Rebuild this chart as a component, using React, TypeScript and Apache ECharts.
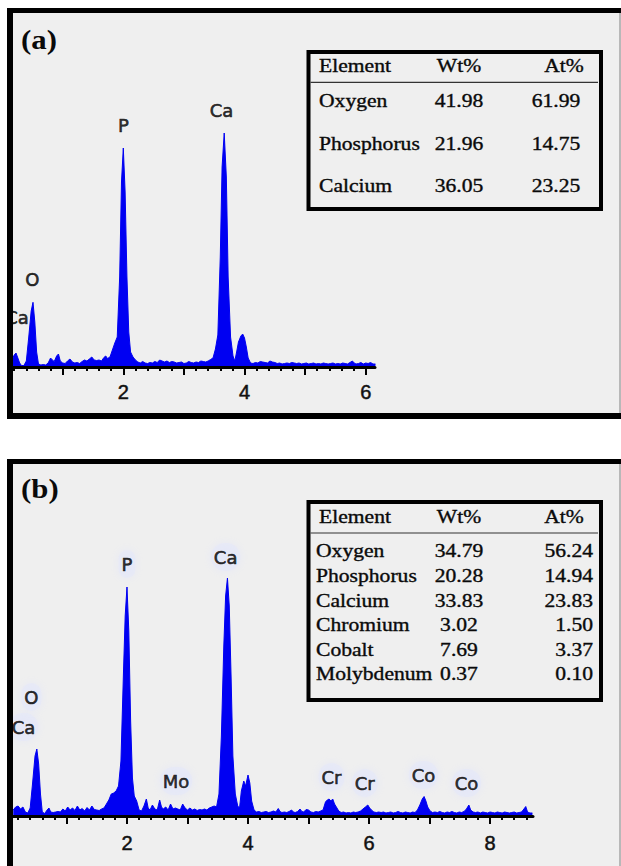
import React, { useEffect, useRef } from 'react';
import * as echarts from 'echarts';

// ---------- Data: EDS spectrum (a) [keV, counts] ----------
const spectrumA: [number, number][] = [
  [0.17, 80], [0.2, 120], [0.23, 140], [0.26, 90], [0.29, 40], [0.32, 15], [0.36, 15],
  [0.4, 60], [0.44, 300], [0.48, 560], [0.51, 647], [0.54, 450], [0.57, 150], [0.6, 30],
  [0.64, 20], [0.68, 25], [0.72, 20], [0.76, 40], [0.8, 90], [0.83, 70], [0.86, 55],
  [0.9, 110], [0.93, 130], [0.96, 60], [1.0, 40], [1.04, 35], [1.08, 60], [1.12, 80],
  [1.16, 50], [1.2, 40], [1.24, 45], [1.28, 35], [1.32, 55], [1.36, 70], [1.4, 60],
  [1.44, 80], [1.48, 100], [1.52, 70], [1.56, 65], [1.6, 70], [1.64, 60], [1.68, 95],
  [1.71, 110], [1.74, 85], [1.78, 100], [1.82, 170], [1.86, 240], [1.9, 300], [1.94, 900],
  [1.97, 1850], [2.0, 2190], [2.03, 1750], [2.06, 900], [2.09, 350], [2.12, 150], [2.16, 100],
  [2.2, 70], [2.24, 50], [2.28, 40], [2.32, 55], [2.36, 40], [2.4, 35], [2.44, 45],
  [2.48, 40], [2.52, 55], [2.56, 45], [2.6, 70], [2.64, 60], [2.68, 50], [2.72, 60],
  [2.76, 45], [2.8, 55], [2.84, 50], [2.88, 40], [2.92, 45], [2.96, 50], [3.0, 35],
  [3.04, 40], [3.08, 55], [3.12, 45], [3.16, 40], [3.2, 50], [3.24, 45], [3.28, 60],
  [3.32, 55], [3.36, 50], [3.4, 60], [3.44, 75], [3.48, 90], [3.52, 180], [3.56, 320],
  [3.6, 1100], [3.63, 2000], [3.665, 2340], [3.7, 1900], [3.73, 900], [3.77, 300], [3.81, 110],
  [3.84, 60], [3.87, 150], [3.9, 250], [3.94, 310], [3.97, 330], [4.0, 290], [4.03, 200],
  [4.06, 90], [4.1, 40], [4.14, 35], [4.18, 45], [4.22, 40], [4.26, 55], [4.3, 50],
  [4.34, 45], [4.38, 40], [4.42, 60], [4.46, 50], [4.5, 45], [4.54, 35], [4.58, 40],
  [4.62, 30], [4.66, 35], [4.7, 40], [4.74, 35], [4.78, 45], [4.82, 40], [4.86, 35],
  [4.9, 40], [4.94, 30], [4.98, 35], [5.02, 40], [5.06, 30], [5.1, 35], [5.14, 40],
  [5.18, 30], [5.22, 35], [5.26, 30], [5.3, 40], [5.34, 35], [5.38, 30], [5.42, 35],
  [5.46, 40], [5.5, 30], [5.54, 35], [5.58, 30], [5.62, 40], [5.66, 35], [5.7, 30],
  [5.74, 45], [5.78, 60], [5.81, 40], [5.84, 30], [5.88, 35], [5.92, 45], [5.96, 30],
  [6.0, 40], [6.04, 35], [6.08, 45], [6.12, 30], [6.16, 30],
];

// ---------- Data: EDS spectrum (b) [keV, counts] ----------
const spectrumB: [number, number][] = [
  [0.12, 60], [0.16, 90], [0.2, 100], [0.24, 70], [0.28, 90], [0.32, 40], [0.36, 30],
  [0.4, 80], [0.44, 330], [0.48, 600], [0.51, 670], [0.54, 520], [0.57, 220], [0.6, 40],
  [0.64, 25], [0.68, 60], [0.71, 80], [0.74, 40], [0.78, 35], [0.82, 40], [0.86, 45],
  [0.9, 40], [0.94, 70], [0.98, 50], [1.02, 90], [1.06, 60], [1.1, 80], [1.14, 55],
  [1.18, 100], [1.22, 60], [1.26, 75], [1.3, 50], [1.34, 85], [1.38, 60], [1.42, 100],
  [1.46, 65], [1.5, 60], [1.54, 55], [1.58, 70], [1.62, 80], [1.66, 120], [1.7, 160],
  [1.74, 220], [1.78, 230], [1.82, 250], [1.86, 300], [1.9, 550], [1.94, 1400], [1.97, 2000],
  [2.0, 2290], [2.03, 1850], [2.06, 950], [2.09, 380], [2.12, 200], [2.16, 150], [2.2, 60],
  [2.24, 50], [2.28, 100], [2.32, 170], [2.35, 80], [2.38, 60], [2.42, 110], [2.46, 70],
  [2.5, 60], [2.54, 160], [2.57, 90], [2.6, 70], [2.64, 90], [2.68, 60], [2.72, 120],
  [2.76, 70], [2.8, 80], [2.84, 70], [2.88, 60], [2.92, 120], [2.96, 80], [3.0, 60],
  [3.04, 80], [3.08, 60], [3.12, 70], [3.16, 55], [3.2, 65], [3.24, 60], [3.28, 70],
  [3.32, 60], [3.36, 80], [3.4, 90], [3.44, 100], [3.48, 90], [3.52, 220], [3.56, 800],
  [3.6, 1700], [3.63, 2200], [3.66, 2380], [3.69, 2100], [3.72, 1400], [3.75, 600], [3.79, 220],
  [3.83, 100], [3.86, 80], [3.89, 250], [3.93, 350], [3.96, 300], [4.0, 410], [4.03, 330],
  [4.06, 150], [4.1, 60], [4.14, 40], [4.18, 45], [4.22, 35], [4.26, 40], [4.3, 45],
  [4.34, 35], [4.38, 40], [4.42, 50], [4.46, 40], [4.5, 75], [4.53, 45], [4.56, 35],
  [4.6, 40], [4.64, 35], [4.68, 45], [4.72, 60], [4.75, 40], [4.78, 35], [4.82, 45],
  [4.86, 70], [4.89, 45], [4.92, 40], [4.96, 65], [5.0, 60], [5.04, 40], [5.08, 35],
  [5.12, 45], [5.16, 40], [5.2, 50], [5.24, 60], [5.28, 140], [5.31, 160], [5.34, 170],
  [5.37, 150], [5.4, 170], [5.43, 120], [5.47, 80], [5.5, 50], [5.54, 35], [5.58, 40],
  [5.62, 30], [5.66, 35], [5.7, 30], [5.74, 40], [5.78, 35], [5.82, 40], [5.86, 50],
  [5.9, 70], [5.94, 90], [5.98, 110], [6.01, 80], [6.04, 60], [6.08, 40], [6.12, 35],
  [6.16, 40], [6.2, 35], [6.24, 40], [6.28, 30], [6.32, 35], [6.36, 40], [6.4, 30],
  [6.44, 35], [6.48, 45], [6.52, 35], [6.56, 30], [6.6, 40], [6.64, 35], [6.68, 30],
  [6.72, 40], [6.76, 35], [6.8, 60], [6.84, 110], [6.88, 170], [6.91, 195], [6.94, 150],
  [6.97, 90], [7.01, 50], [7.05, 35], [7.09, 40], [7.13, 35], [7.17, 45], [7.21, 35],
  [7.25, 30], [7.29, 40], [7.33, 35], [7.37, 45], [7.41, 35], [7.45, 30], [7.49, 40],
  [7.53, 35], [7.57, 45], [7.61, 70], [7.65, 110], [7.68, 60], [7.72, 40], [7.76, 35],
  [7.8, 40], [7.84, 30], [7.88, 40], [7.92, 35], [7.96, 30], [8.0, 40], [8.04, 35],
  [8.08, 30], [8.12, 40], [8.16, 35], [8.2, 30], [8.24, 40], [8.28, 35], [8.32, 30],
  [8.36, 35], [8.4, 40], [8.44, 30], [8.48, 35], [8.52, 40], [8.56, 70], [8.59, 95],
  [8.62, 40], [8.66, 30], [8.7, 30],
];

// ---------- Peak labels [name, keV, counts] ----------
const peakLabelsA: [string, number, number][] = [
  ['Ca', 0.246, 500], ['O', 0.5, 877], ['P', 2.0, 2420], ['Ca', 3.62, 2563],
];
const peakLabelsB: [string, number, number][] = [
  ['Ca', 0.29, 890], ['O', 0.42, 1190], ['P', 2.0, 2520], ['Mo', 2.81, 350], ['Ca', 3.63, 2590],
  ['Cr', 5.38, 390], ['Cr', 5.93, 330], ['Co', 6.9, 410], ['Co', 7.61, 330],
];

// ---------- Axis ticks ----------
const labelTicksA = [2, 4, 6];
const majorTicksA = [1, 2, 3, 4, 5, 6];
const minorTicksA = [0.2, 0.4, 0.6, 0.8, 1.0, 1.2, 1.4, 1.6, 1.8, 2.0, 2.2, 2.4, 2.6, 2.8, 3.0,
  3.2, 3.4, 3.6, 3.8, 4.0, 4.2, 4.4, 4.6, 4.8, 5.0, 5.2, 5.4, 5.6, 5.8, 6.0];
const labelTicksB = [2, 4, 6, 8];
const majorTicksB = [1, 2, 3, 4, 5, 6, 7, 8];
const minorTicksB = [0.2, 0.4, 0.6, 0.8, 1.0, 1.2, 1.4, 1.6, 1.8, 2.0, 2.2, 2.4, 2.6, 2.8, 3.0,
  3.2, 3.4, 3.6, 3.8, 4.0, 4.2, 4.4, 4.6, 4.8, 5.0, 5.2, 5.4, 5.6, 5.8, 6.0, 6.2, 6.4, 6.6,
  6.8, 7.0, 7.2, 7.4, 7.6, 7.8, 8.0, 8.2, 8.4, 8.6];

// ---------- Tables ----------
const tableHeader = ['Element', 'Wt%', 'At%'];
const elementsA = ['Oxygen', 'Phosphorus', 'Calcium'];
const wtA = ['41.98', '21.96', '36.05'];
const atA = ['61.99', '14.75', '23.25'];
const elementsB = ['Oxygen', 'Phosphorus', 'Calcium', 'Chromium', 'Cobalt', 'Molybdenum'];
const wtB = ['34.79', '20.28', '33.83', '3.02', '7.69', '0.37'];
const atB = ['56.24', '14.94', '23.83', '1.50', '3.37', '0.10'];

const BLUE = '#0000f2';
const SERIF = '"Liberation Serif", "Times New Roman", serif';

function majorAxis(grid: number, min: number, max: number, ticks: number[], labels: number[], margin: number) {
  return {
    gridIndex: grid, type: 'value', position: 'bottom', min, max, z: 5,
    splitLine: { show: false },
    axisLine: { show: true, lineStyle: { color: '#000', width: 3 } },
    axisTick: { show: true, customValues: ticks, length: 8, lineStyle: { color: '#000', width: 2 } },
    axisLabel: {
      show: true, customValues: labels, margin, fontSize: 20, color: '#111',
      fontFamily: '"Liberation Sans", Arial, sans-serif',
      textBorderColor: '#111', textBorderWidth: 0.5,
    },
  };
}
function minorAxis(grid: number, min: number, max: number, ticks: number[]) {
  return {
    gridIndex: grid, type: 'value', position: 'bottom', min, max, z: 5,
    splitLine: { show: false },
    axisLine: { show: false },
    axisTick: { show: true, customValues: ticks, length: 4, lineStyle: { color: '#000', width: 2 } },
    axisLabel: { show: false, customValues: ticks },
  };
}

function txt(text: string, x: number, y: number, align: string, font: string, scaleX = 1.2, strokeW = 0.35) {
  return {
    type: 'text', x, y, scaleX, z: 50,
    style: {
      text, font, fill: '#0a0a0a', stroke: '#0a0a0a', lineWidth: strokeW,
      textAlign: align, align, textVerticalAlign: 'middle', verticalAlign: 'middle',
    },
  };
}

function table(box: { x: number; y: number; w: number; h: number }, headerY: number, ruleY: number,
  rowY0: number, rowStep: number, elements: string[], wt: string[], at: string[],
  elemX: number, atX: number, atAlign: string) {
  const font = `18px ${SERIF}`;
  const els: any[] = [
    { type: 'rect', z: 40, shape: { x: box.x, y: box.y, width: box.w, height: box.h },
      style: { fill: 'rgba(0,0,0,0)', stroke: '#000', lineWidth: 4 } },
    { type: 'line', z: 40, shape: { x1: box.x + 2, y1: ruleY, x2: box.x + box.w - 3, y2: ruleY },
      style: { stroke: '#333', lineWidth: 1.2 } },
    txt(tableHeader[0], 319, headerY, 'left', font),
    txt(tableHeader[1], 459, headerY, 'center', font),
    txt(tableHeader[2], 564, headerY, 'center', font),
  ];
  elements.forEach((e, i) => {
    const y = rowY0 + i * rowStep;
    els.push(txt(e, elemX, y, 'left', font));
    els.push(txt(wt[i], 459, y, 'center', font));
    els.push(txt(at[i], atX, y, atAlign, font));
  });
  return els;
}

function labelSeries(xi: number, yi: number, labels: [string, number, number][], halo: boolean) {
  return {
    type: 'scatter', xAxisIndex: xi, yAxisIndex: yi, symbolSize: 1, z: 6, silent: true,
    itemStyle: { color: 'rgba(0,0,0,0)' },
    data: labels.map(([n, x, y]) => ({ name: n, value: [x, y] })),
    label: {
      show: true, position: 'inside', formatter: '{b}', fontSize: 18, color: '#000',
      fontFamily: '"DejaVu Sans", Verdana, sans-serif',
      textBorderColor: '#000', textBorderWidth: 0.6,
      ...(halo ? {
        backgroundColor: 'rgba(228,231,250,0.7)', borderRadius: 14, padding: [5, 3],
        shadowBlur: 8, shadowColor: 'rgba(222,226,250,0.9)',
      } : {}),
    },
  };
}

function spectrumSeries(xi: number, yi: number, data: [number, number][]) {
  return {
    type: 'line', xAxisIndex: xi, yAxisIndex: yi, data, symbol: 'none', z: 2,
    lineStyle: { color: BLUE, width: 1 }, areaStyle: { color: BLUE, opacity: 1 },
  };
}

const frame = (top: number, bottom: number) => [
  { type: 'rect', z: -10, shape: { x: 13, y: top + 5, width: 606, height: bottom - top - 5 }, style: { fill: '#efefef' } },
  { type: 'rect', z: 100, shape: { x: 619, y: top + 5, width: 2, height: bottom - top - 5 }, style: { fill: '#b8b8b8' } },
  { type: 'rect', z: 100, shape: { x: 7, y: top, width: 614, height: 5 }, style: { fill: '#000' } },
  { type: 'rect', z: 100, shape: { x: 7, y: top, width: 6, height: bottom - top }, style: { fill: '#000' } },
];

export default function App() {
  const ref = useRef<HTMLDivElement>(null);
  useEffect(() => {
    const chart = echarts.init(ref.current!, null, { renderer: 'svg' });
    const graphics: any[] = [
      ...frame(8, 419),
      { type: 'rect', z: 100, shape: { x: 7, y: 413, width: 614, height: 6 }, style: { fill: '#000' } },
      ...frame(459, 866),
      { type: 'rect', z: 100, shape: { x: 0, y: 0, width: 7, height: 866 }, style: { fill: '#fff' } },
      txt('(a)', 21, 39, 'left', `bold 28px ${SERIF}`, 1.1, 0),
      txt('(b)', 21, 488, 'left', `bold 28px ${SERIF}`, 1.1, 0),
      ...table({ x: 308.5, y: 52, w: 292.5, h: 157 }, 66, 82.3, 101, 42.5, elementsA, wtA, atA, 319, 556, 'center'),
      ...table({ x: 308.5, y: 502, w: 292.5, h: 198 }, 517, 533, 551, 24.6, elementsB, wtB, atB, 316, 593, 'right'),
    ];
    chart.setOption({
      animation: false,
      grid: [
        { left: 13, top: 17, width: 362, height: 350 },
        { left: 13, top: 466, width: 520, height: 350 },
      ],
      xAxis: [
        majorAxis(0, 0.18, 6.153, majorTicksA, labelTicksA, 15),
        minorAxis(0, 0.18, 6.153, minorTicksA),
        majorAxis(1, 0.116, 8.71, majorTicksB, labelTicksB, 17),
        minorAxis(1, 0.116, 8.71, minorTicksB),
      ],
      yAxis: [
        { gridIndex: 0, type: 'value', min: 0, max: 3500, show: false },
        { gridIndex: 1, type: 'value', min: 0, max: 3500, show: false },
      ],
      series: [
        spectrumSeries(0, 0, spectrumA),
        labelSeries(0, 0, peakLabelsA, false),
        spectrumSeries(2, 1, spectrumB),
        labelSeries(2, 1, peakLabelsB, true),
      ],
      graphic: { elements: graphics },
    });
    return () => chart.dispose();
  }, []);
  return (
    <div ref={ref} style={{ position: 'fixed', left: 0, top: 0, width: 621, height: 866, background: '#fff' }} />
  );
}
